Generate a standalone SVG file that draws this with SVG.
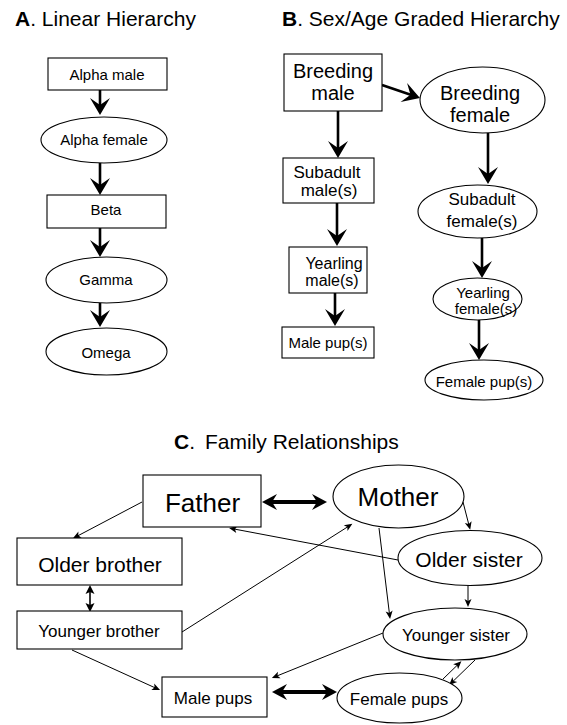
<svg xmlns="http://www.w3.org/2000/svg" width="567" height="725" viewBox="0 0 567 725">
<style>
text{font-family:"Liberation Sans",Arial,sans-serif;fill:#000;text-anchor:middle}
.title{text-anchor:start;font-size:21px}
.node{fill:#fff;stroke:#000;stroke-width:1.1}
.thick{stroke:#000;stroke-width:2.6;fill:none}
.thin{stroke:#000;stroke-width:1;fill:none}
.dbl{stroke:#000;stroke-width:4;fill:none}
.a{font-size:15px}
</style>
<defs>
<marker id="big" viewBox="-18 -11 20 22" markerWidth="20" markerHeight="22" refX="-9" refY="0" orient="auto" markerUnits="userSpaceOnUse">
<path d="M0,0 L-17,-10 L-10,0 L-17,10 Z" fill="#000"/>
</marker>
<marker id="dbl" viewBox="-16 -9 17 18" markerWidth="17" markerHeight="18" refX="-8" refY="0" orient="auto-start-reverse" markerUnits="userSpaceOnUse">
<path d="M0,0 L-15,-8 L-10,0 L-15,8 Z" fill="#000"/>
</marker>
<marker id="sm" viewBox="-9 -5 10 10" markerWidth="10" markerHeight="10" refX="-4" refY="0" orient="auto-start-reverse" markerUnits="userSpaceOnUse">
<path d="M0,0 L-8,-3.5 L-6,0 L-8,3.5 Z" fill="#000"/>
</marker>
<marker id="md" viewBox="-10 -6 11 12" markerWidth="11" markerHeight="12" refX="-5" refY="0" orient="auto-start-reverse" markerUnits="userSpaceOnUse">
<path d="M0,0 L-9,-4.5 L-7,0 L-9,4.5 Z" fill="#000"/>
</marker>
</defs>
<rect width="567" height="725" fill="#fff"/>

<g id="titles">
<text class="title" x="15" y="26"><tspan font-weight="bold">A</tspan>. Linear Hierarchy</text>
<text class="title" x="282" y="26" font-size="20.7"><tspan font-weight="bold">B</tspan>. Sex/Age Graded Hierarchy</text>
<text class="title" x="174" y="449"><tspan font-weight="bold">C</tspan>.<tspan dx="10">Family Relationships</tspan></text>
</g>

<g id="connectors">
<!-- Panel A -->
<line class="thick" x1="100" y1="90" x2="100" y2="106" marker-end="url(#big)"/>
<line class="thick" x1="100" y1="163" x2="100" y2="186" marker-end="url(#big)"/>
<line class="thick" x1="100" y1="228" x2="100" y2="248" marker-end="url(#big)"/>
<line class="thick" x1="100" y1="303" x2="100" y2="318" marker-end="url(#big)"/>
<!-- Panel B -->
<line class="thick" x1="382" y1="85" x2="411.4" y2="95.1" marker-end="url(#big)"/>
<line class="thick" x1="338" y1="111" x2="338" y2="149" marker-end="url(#big)"/>
<line class="thick" x1="337" y1="203" x2="337" y2="237" marker-end="url(#big)"/>
<line class="thick" x1="335" y1="293" x2="335" y2="317" marker-end="url(#big)"/>
<line class="thick" x1="488" y1="133" x2="488" y2="175" marker-end="url(#big)"/>
<line class="thick" x1="482" y1="238" x2="482" y2="269" marker-end="url(#big)"/>
<line class="thick" x1="479" y1="320" x2="479" y2="351" marker-end="url(#big)"/>
<!-- Panel C -->
<line class="dbl" x1="270" y1="502" x2="319" y2="502" marker-start="url(#dbl)" marker-end="url(#dbl)"/>
<line class="dbl" x1="280" y1="692" x2="329" y2="692" marker-start="url(#dbl)" marker-end="url(#dbl)"/>
<line class="thin" x1="142" y1="502" x2="76.5" y2="536.5" marker-end="url(#sm)"/>
<line class="thin" x1="398" y1="560" x2="233" y2="528.8" marker-end="url(#sm)"/>
<line class="thin" x1="182" y1="632" x2="349" y2="526" marker-end="url(#sm)"/>
<line class="thin" x1="463" y1="502" x2="469.2" y2="526" marker-end="url(#sm)"/>
<line class="thin" x1="379" y1="528" x2="389.6" y2="615" marker-end="url(#sm)"/>
<line class="thin" x1="468" y1="585" x2="468" y2="603" marker-end="url(#sm)"/>
<line class="thin" x1="383" y1="633" x2="275.6" y2="676.5" marker-end="url(#sm)"/>
<line class="thin" x1="72" y1="650" x2="156.4" y2="688.4" marker-end="url(#sm)"/>
<line class="thin" x1="443" y1="679" x2="458.5" y2="664" marker-end="url(#sm)"/>
<line class="thin" x1="475" y1="660" x2="452" y2="682.3" marker-end="url(#sm)"/>
<line stroke="#000" stroke-width="1.6" x1="90" y1="590" x2="90" y2="607" marker-start="url(#md)" marker-end="url(#md)"/>
</g>

<g id="A-alpha-male"><rect class="node" x="48" y="58" width="119" height="32"/><text class="a" x="107" y="80">Alpha male</text></g>
<g id="A-alpha-female"><ellipse class="node" cx="104" cy="140" rx="63" ry="23"/><text class="a" x="104" y="145">Alpha female</text></g>
<g id="A-beta"><rect class="node" x="47" y="195" width="119" height="33"/><text class="a" x="106" y="215">Beta</text></g>
<g id="A-gamma"><ellipse class="node" cx="106.5" cy="280" rx="60.5" ry="23"/><text class="a" x="106" y="285">Gamma</text></g>
<g id="A-omega"><ellipse class="node" cx="106.5" cy="351.5" rx="60.5" ry="23.5"/><text class="a" x="106" y="358">Omega</text></g>

<g id="B-breeding-male"><rect class="node" x="284" y="54" width="98" height="57"/><text font-size="20" x="333" y="78">Breeding</text><text font-size="20" x="333" y="100">male</text></g>
<g id="B-breeding-female"><ellipse class="node" cx="482.5" cy="100" rx="62.5" ry="33"/><text font-size="20" x="480" y="100">Breeding</text><text font-size="20" x="480" y="122">female</text></g>
<g id="B-subadult-male"><rect class="node" x="283" y="158" width="91" height="45"/><text font-size="17" x="327" y="178">Subadult</text><text font-size="17" x="329" y="196">male(s)</text></g>
<g id="B-subadult-female"><ellipse class="node" cx="477.5" cy="211.5" rx="59.5" ry="26.5"/><text font-size="17" x="482" y="205">Subadult</text><text font-size="17" x="482" y="227">female(s)</text></g>
<g id="B-yearling-male"><rect class="node" x="289" y="247" width="78" height="46"/><text font-size="16" x="334" y="269">Yearling</text><text font-size="16" x="332" y="286">male(s)</text></g>
<g id="B-yearling-female"><ellipse class="node" cx="477.5" cy="299" rx="44.5" ry="21"/><text font-size="15" x="483" y="298">Yearling</text><text font-size="15" x="486" y="314">female(s)</text></g>
<g id="B-male-pups"><rect class="node" x="282" y="327" width="92" height="31"/><text font-size="15" x="328" y="348">Male pup(s)</text></g>
<g id="B-female-pups"><ellipse class="node" cx="484" cy="380" rx="59" ry="20"/><text font-size="15" x="484" y="387">Female pup(s)</text></g>

<g id="C-father"><rect class="node" x="143" y="475" width="118" height="52"/><text font-size="26" x="202.5" y="512">Father</text></g>
<g id="C-mother"><ellipse class="node" cx="398.5" cy="496.5" rx="65.5" ry="31.5"/><text font-size="26" x="398" y="506">Mother</text></g>
<g id="C-older-brother"><rect class="node" x="17" y="538" width="165" height="47"/><text font-size="21" x="100" y="572">Older brother</text></g>
<g id="C-older-sister"><ellipse class="node" cx="470" cy="558" rx="72" ry="27.5"/><text font-size="21" x="469" y="567">Older sister</text></g>
<g id="C-younger-brother"><rect class="node" x="17" y="611" width="165" height="38"/><text font-size="17" x="99" y="637">Younger brother</text></g>
<g id="C-younger-sister"><ellipse class="node" cx="455" cy="634" rx="72" ry="26"/><text font-size="17" x="456" y="641">Younger sister</text></g>
<g id="C-male-pups"><rect class="node" x="162" y="677" width="105" height="40"/><text font-size="17" x="213" y="704">Male pups</text></g>
<g id="C-female-pups"><ellipse class="node" cx="399.5" cy="698" rx="62.5" ry="25"/><text font-size="17" x="399" y="705">Female pups</text></g>
</svg>
